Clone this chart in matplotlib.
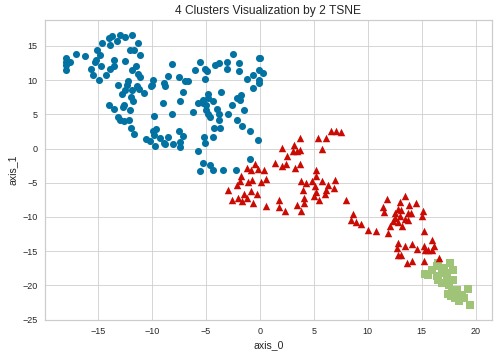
import numpy as np
import matplotlib
matplotlib.use("Agg")
import matplotlib.pyplot as plt
import seaborn as sns

sns.set_style("whitegrid")
plt.rcParams['font.family'] = ['Liberation Sans', 'DejaVu Sans']

# cluster 0 (blue circles)
blue_x = [-17.9, -17.9, -17.9, -17.9, -17.6, -17.0, -16.2, -15.1, -14.6, -14.0, -13.7, -13.9, -13.2,
          -12.9, -12.5, -11.8, -11.3, -12.0, -11.6, -11.1, -14.8, -15.2, -15.3, -15.6, -15.4, -14.9,
          -14.7, -14.2, -13.9, -13.5, -13.5, -12.5, -11.8, -11.5, -11.3, -11.1, -13.1, -12.2, -12.3,
          -12.5, -12.8, -11.8, -11.4, -11.2, -10.7, -11.9, -11.7, -12.6, -12.7, -12.0, -14.0, -13.5,
          -13.1, -12.9, -12.6, -12.1, -11.9, -11.6, -10.1, -9.9, -8.9, -8.8, -8.5, -8.1, -7.5, -6.9,
          -6.6, -7.1, -7.4, -9.0, -9.8, -8.1, -9.9, -9.6, -9.8, -10.5, -10.2, -9.7, -9.2, -8.9, -8.5,
          -8.8, -8.0, -7.5, -7.1, -7.4, -7.4, -6.2, -6.0, -5.5, -5.1, -4.9, -5.1, -4.8, -4.8, -5.7,
          -5.3, -5.0, -5.3, -4.3, -4.8, -5.0, -4.6, -4.0, -3.8, -3.8, -3.6, -4.2, -3.7, -4.3, -5.2,
          -5.1, -5.7, -5.3, -5.5, -4.6, -4.3, -3.4, -2.2, -0.9, -4.1, -3.8, -3.0, -3.0, -2.5, -1.9,
          -1.9, -1.2, -0.6, -0.6, -0.1, 0.0, -0.1, 0.3, -0.1, -0.1, -2.6, -2.1, -1.7, -1.8, -1.5,
          -2.9, -2.1, -1.6, -0.9, -0.2, -10.0]
blue_y = [13.2, 12.7, 12.2, 11.5, 12.7, 13.8, 13.5, 14.4, 15.5, 16.1, 16.4, 15.1, 15.8,
          16.6, 16.3, 16.6, 15.5, 14.4, 14.4, 13.7, 13.7, 13.0, 12.7, 11.7, 10.8, 10.0,
          12.0, 10.7, 11.7, 13.0, 12.0, 12.8, 11.5, 12.1, 10.9, 10.5, 9.3, 9.9, 9.3,
          8.6, 8.0, 8.6, 9.1, 8.7, 8.1, 7.5, 6.9, 6.4, 6.1, 5.7, 6.4, 5.8,
          4.6, 4.2, 4.0, 4.2, 3.0, 2.2, 9.1, 10.0, 9.6, 9.2, 10.6, 12.3, 10.5, 9.9,
          9.9, 8.2, 6.9, 6.7, 4.8, 5.0, 2.6, 2.9, 2.0, 1.4, 1.1, 0.4, 1.6, 0.8, 1.7,
          0.7, 0.7, 2.6, 1.9, 1.0, 0.3, 5.4, 11.5, 12.6, 11.7, 11.4, 10.1, 8.0, 7.4, 6.7,
          6.6, 6.3, 7.1, 7.0, 5.1, 5.7, 4.6, 5.8, 5.1, 4.2, 8.3, 3.0, 3.0, 1.7, 1.7,
          0.8, -0.4, -2.1, -3.3, -2.4, -3.2, -3.2, -3.2, -1.5, 12.2, 12.5, 12.6, 11.6, 13.9, 12.5,
          11.3, 10.1, 10.8, 8.8, 13.2, 13.3, 11.5, 11.0, 10.0, 9.6, 6.4, 7.4, 7.9, 7.1, 5.6,
          5.1, 4.2, 3.3, 2.6, 1.3, 9.3]

# cluster 2 (red triangles)
red_x = [3.7, 2.1, 3.2, 3.1, 3.4, 3.7, 2.5, 2.4, 2.1, 1.4, 3.7, 3.3, 5.4, 6.1, 5.8, 6.6, 7.1, 7.5,
         -0.4, -0.8, -1.2, -0.2, 0.4, -1.7, -1.8, -1.1, -0.7, 0.1, 0.6, -2.9, -2.1, -1.5, -0.8,
         -0.3, -1.2, -1.6, -2.0, -2.6, -0.6, 0.6, 1.8, 1.8, 2.3, 3.4, 3.8, 4.1, 4.1, 3.8, 4.3,
         4.0, 4.8, 5.2, 5.2, 5.1, 5.2, 5.0, 5.8, 6.3, 6.1, 6.0, 5.5, 7.0, 6.9, 8.0, 8.6, 8.4,
         8.9, 9.4, 10.0, 10.8, 11.9, 11.8, 13.4, 13.0, 13.8, 14.5, 11.4, 11.5, 12.5, 12.8, 13.1,
         12.5, 13.0, 13.7, 14.0, 13.4, 13.7, 12.3, 12.1, 12.8, 13.2, 15.1, 15.0, 15.2, 12.8,
         12.7, 13.4, 14.1, 14.6, 15.2, 15.3, 15.9, 16.1, 15.6, 15.9, 12.8, 13.1, 13.6, 14.1,
         15.2, 16.6]
red_y = [1.5, 0.1, 0.5, -0.3, -0.3, -0.2, -1.1, -2.2, -2.5, -2.1, -2.3, -2.9, 1.5, 1.6, 0.0, 2.5, 2.5, 2.4,
         -2.2, -3.2, -2.8, -3.0, -3.1, -4.0, -4.7, -4.9, -4.6, -4.9, -4.4, -6.0, -5.4, -6.6, -6.2,
         -6.7, -7.2, -7.7, -7.2, -7.5, -7.9, -8.4, -7.5, -8.5, -9.2, -8.3, -9.2, -7.2, -7.9, -4.8, -5.0,
         -6.0, -4.8, -3.1, -4.0, -5.5, -6.4, -6.9, -4.8, -5.4, -6.0, -6.7, -7.5, -4.6, -5.7, -7.5, -9.5, -10.4,
         -10.8, -11.0, -11.9, -12.1, -12.4, -7.4, -6.9, -7.8, -8.2, -8.0, -8.5, -9.3, -9.4, -8.9, -9.0,
         -10.1, -9.9, -9.4, -9.4, -10.3, -10.4, -10.6, -11.3, -10.8, -11.3, -9.2, -9.9, -12.1, -13.8,
         -14.6, -14.3, -13.9, -14.7, -14.2, -14.8, -13.3, -14.2, -14.9, -14.9, -15.5, -15.5, -16.7, -16.4,
         -16.4, -16.0]

# cluster 1 (green squares)
green_x = [15.3, 15.9, 16.4, 16.5, 17.1, 17.6, 17.9, 17.2, 16.4, 16.5, 16.9, 17.3, 17.9, 17.5,
           17.4, 17.8, 18.3, 19.3, 18.1, 18.5, 18.9, 19.5, 15.6, 16.9, 17.7, 18.7, 18.4]
green_y = [-18.3, -17.7, -17.2, -16.8, -17.4, -16.8, -17.8, -18.2, -18.6, -19.2, -19.7, -19.0, -19.2, -20.0,
           -21.3, -20.9, -20.7, -20.6, -21.9, -21.4, -21.8, -22.9, -18.5, -18.2, -21.5, -21.6, -22.3]

fig, ax = plt.subplots(figsize=(498 / 72, 357 / 72), dpi=72)
fig.subplots_adjust(left=0.090, right=0.988, bottom=0.104, top=0.944)

ax.scatter(blue_x, blue_y, c='#0272a2', marker='o', s=50, linewidths=0)
ax.scatter(green_x, green_y, c='#9fc377', marker='s', s=52, linewidths=0)
ax.scatter(red_x, red_y, c='#ca0b03', marker='^', s=56, linewidths=0)

ax.set_xlim(-19.9, 21.5)
ax.set_ylim(-25.05, 18.8)
ax.set_xticks([-15, -10, -5, 0, 5, 10, 15, 20])
ax.set_yticks([-25, -20, -15, -10, -5, 0, 5, 10, 15])
ax.tick_params(labelsize=9, colors='#262626', pad=4)
for s in ax.spines.values():
    s.set_color('#cccccc')
    s.set_linewidth(1.2)

ax.set_title('4 Clusters Visualization by 2 TSNE', fontsize=12, color='#262626')
ax.set_xlabel('axis_0', fontsize=10.5, color='#262626')
ax.set_ylabel('axis_1', fontsize=10.5, color='#262626')

fig.savefig('out.png', dpi=72)
